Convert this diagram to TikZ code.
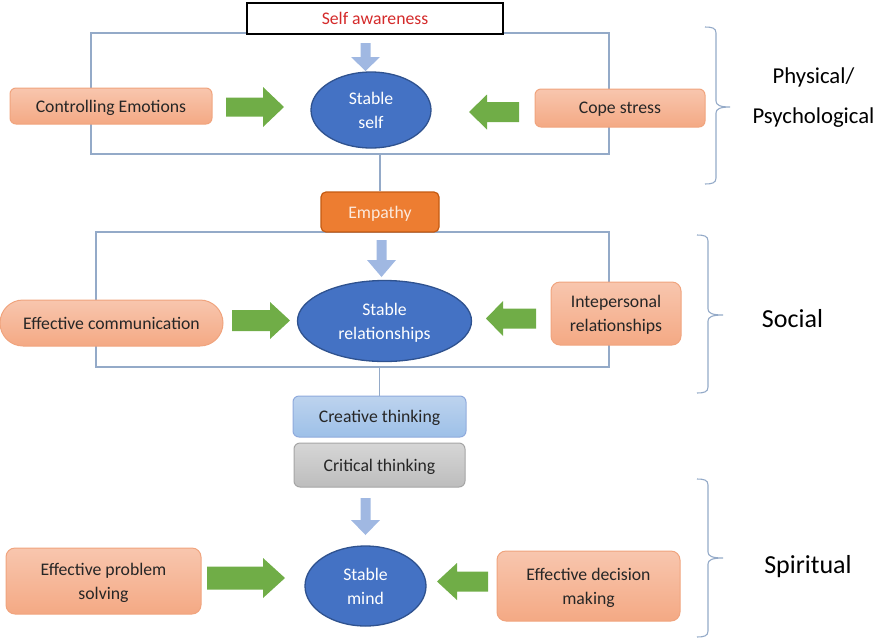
\documentclass[tikz,border=0pt]{standalone}
\usepackage{fontspec}
\setmainfont{Carlito}
\usetikzlibrary{shapes.geometric}
\definecolor{txtdark}{HTML}{262626}
\definecolor{salmontop}{HTML}{F8C6AE}
\definecolor{salmonbot}{HTML}{F4A984}
\definecolor{salmonborder}{HTML}{F0A47E}
\definecolor{empfill}{HTML}{ED7D31}
\definecolor{empborder}{HTML}{C55A11}
\definecolor{emptext}{HTML}{FCE9DC}
\definecolor{ellfill}{HTML}{4472C4}
\definecolor{ellborder}{HTML}{2F528F}
\definecolor{creattop}{HTML}{BDD3EE}
\definecolor{creatbot}{HTML}{9DC0E8}
\definecolor{creatborder}{HTML}{8FAADC}
\definecolor{crittop}{HTML}{D6D6D6}
\definecolor{critbot}{HTML}{BDBDBD}
\definecolor{critborder}{HTML}{A5A5A5}
\definecolor{greenc}{HTML}{70AD47}
\definecolor{bluearrc}{HTML}{A0B8E2}
\definecolor{framec}{HTML}{94AAC8}
\definecolor{redtxt}{HTML}{D42A2A}
\newcommand\arrR[6]{\fill[greenc] (#1,{#3-#4}) -- ({#2-#6},{#3-#4}) -- ({#2-#6},{#3-#5}) -- (#2,#3) -- ({#2-#6},{#3+#5}) -- ({#2-#6},{#3+#4}) -- (#1,{#3+#4}) -- cycle;}
\newcommand\arrL[6]{\fill[greenc] (#2,{#3-#4}) -- ({#1+#6},{#3-#4}) -- ({#1+#6},{#3-#5}) -- (#1,#3) -- ({#1+#6},{#3+#5}) -- ({#1+#6},{#3+#4}) -- (#2,{#3+#4}) -- cycle;}
\newcommand\arrD[6]{\fill[bluearrc] ({#3-#4},#1) -- ({#3+#4},#1) -- ({#3+#4},{#2-#6}) -- ({#3+#5},{#2-#6}) -- (#3,#2) -- ({#3-#5},{#2-#6}) -- ({#3-#4},{#2-#6}) -- cycle;}
\tikzset{
  basetxt/.style={font=\fontsize{17.7}{24}\selectfont, text=txtdark, align=center, inner sep=0pt, text depth=0pt},
  salmon/.style={basetxt, rectangle, rounded corners=6pt, draw=salmonborder, line width=1pt, top color=salmontop, bottom color=salmonbot},
  stab/.style={basetxt, ellipse, draw=ellborder, line width=1.3pt, fill=ellfill, text=white},
  framebox/.style={draw=framec, line width=1.1pt, inner sep=0pt, rectangle},
  frameline/.style={draw=framec, line width=1.1pt},
  bracec/.style={draw=framec, line width=1.1pt},
  sidelbl/.style={text=black, anchor=base, inner sep=0pt},
}
\begin{document}
\begin{tikzpicture}[x=1pt,y=-1pt]
\useasboundingbox (0,0) rectangle (892,638);
% frames
\node[framebox, minimum width=518, minimum height=121] (frameA) at (350,93.5) {};
\node[framebox, minimum width=513, minimum height=135] (frameB) at (352.5,299.5) {};
% nodes
\node[basetxt, draw=black, line width=1.3pt, fill=white, text=redtxt, minimum width=256, minimum height=31] (selfaw) at (375,18.5) {Self awareness};
\node[salmon, minimum width=202, minimum height=36] (ctrl) at (111,106) {Controlling Emotions};
\node[stab, minimum width=120, minimum height=76] (sself) at (371,110) {Stable\\self};
\node[salmon, minimum width=170, minimum height=38] (cope) at (620,108) {Cope stress};
\node[basetxt, rectangle, rounded corners=5pt, draw=empborder, line width=1.2pt, fill=empfill, text=emptext, minimum width=118, minimum height=40] (emp) at (380,212) {Empathy};
\node[salmon, rounded corners=23pt, minimum width=223, minimum height=46] (effcom) at (111.5,323) {Effective communication};
\node[stab, minimum width=174, minimum height=81] (srel) at (384.5,321) {Stable\\relationships};
\node[salmon, rounded corners=9pt, minimum width=130, minimum height=63] (interp) at (616,313.5) {Intepersonal\\relationships};
\node[basetxt, rectangle, rounded corners=6pt, draw=creatborder, line width=1pt, top color=creattop, bottom color=creatbot, minimum width=173, minimum height=41] (creat) at (379.5,416.5) {Creative thinking};
\node[basetxt, rectangle, rounded corners=6pt, draw=critborder, line width=1pt, top color=crittop, bottom color=critbot, minimum width=171, minimum height=44] (crit) at (379.5,465) {Critical thinking};
\node[salmon, rounded corners=9pt, minimum width=195, minimum height=66] (effprob) at (103.5,581) {Effective problem\\solving};
\node[stab, minimum width=121, minimum height=80] (smind) at (365.5,586) {Stable\\mind};
\node[salmon, rounded corners=9pt, minimum width=183, minimum height=70] (effdec) at (588.5,586) {Effective decision\\making};
% side labels
\node[sidelbl, font=\fontsize{22.7}{27}\selectfont] (phys) at (813.5,83) {Physical/};
\node[sidelbl, font=\fontsize{22.7}{27}\selectfont] (psych) at (813.5,123) {Psychological};
\node[sidelbl, font=\fontsize{26}{30}\selectfont] (social) at (792.5,327) {Social};
\node[sidelbl, font=\fontsize{26}{30}\selectfont] (spirit) at (808,573) {Spiritual};
% connector lines
\draw[frameline] (frameA.south -| emp.north) -- (emp.north);
\draw[frameline] (frameB.south -| creat.north) -- (creat.north);
% block arrows
\arrD{43}{71}{365.5}{5}{14.5}{14}
\arrR{226}{284}{107}{9.5}{20}{21}
\arrL{469}{519}{112}{10}{17.5}{18}
\arrD{240}{277}{381.5}{5}{14.5}{17}
\arrR{232}{290}{320.5}{10.5}{18.5}{20}
\arrL{486}{536}{318.5}{10}{17.5}{17}
\arrD{498}{535}{365.5}{5}{14.5}{15}
\arrR{207}{285}{578}{11.5}{20}{22}
\arrL{437}{488}{581.5}{10}{18.5}{20}
% braces
\draw[bracec] (705,27) .. controls (712,27) and (716,28) .. (716,33) -- (716,101) .. controls (716,105) and (720,107) .. (730,107) .. controls (720,107) and (716,109) .. (716,113) -- (716,178) .. controls (716,183) and (712,184) .. (705,184);
\draw[bracec] (697,235) .. controls (704,235) and (708,236) .. (708,241) -- (708,309) .. controls (708,313) and (712,315) .. (723,315) .. controls (712,315) and (708,317) .. (708,321) -- (708,387) .. controls (708,392) and (704,393) .. (697,393);
\draw[bracec] (697,479) .. controls (704,479) and (708,480) .. (708,485) -- (708,552) .. controls (708,556) and (712,558) .. (723,558) .. controls (712,558) and (708,560) .. (708,564) -- (708,631) .. controls (708,636) and (704,637) .. (697,637);
\end{tikzpicture}
\end{document}
